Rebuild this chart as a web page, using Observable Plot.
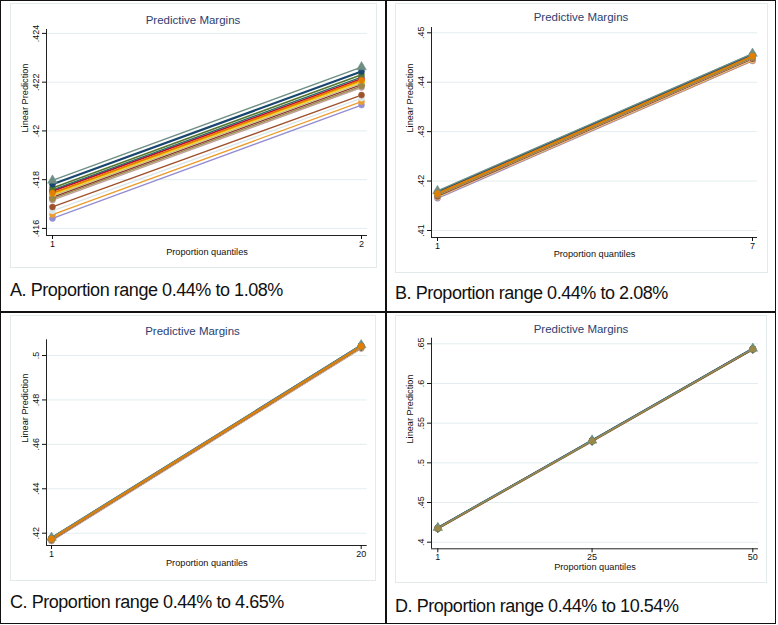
<!DOCTYPE html>
<html><head><meta charset="utf-8">
<script src="https://cdn.jsdelivr.net/npm/d3@7"></script>
<script src="https://cdn.jsdelivr.net/npm/@observablehq/plot@0.6"></script>
<style>
body{margin:0;background:#fff;font-family:"Liberation Sans",Arial,sans-serif}
#wrap{position:relative;width:778px;height:625px;overflow:hidden}
.frame{position:absolute;left:0;top:0;width:776px;height:624px;box-sizing:border-box;border:1.5px solid #111}
.vline{position:absolute;left:385px;top:0;width:1.5px;height:624px;background:#111}
.hline{position:absolute;left:0;top:311px;width:776px;height:1.5px;background:#111}
.cell{position:absolute;width:386px;height:311px}
.region{position:absolute;border:1px solid #e2eaec;box-sizing:border-box}
.plot{position:absolute;left:0;top:0}
.ptitle{position:absolute;transform:translate(-50%,-50%);color:#2c3e70;font-size:11.5px;white-space:nowrap}
.caption{position:absolute;transform:translateY(-50%);font-size:18px;letter-spacing:-0.45px;color:#111;white-space:nowrap}
</style>
</head><body>
<div id="wrap">
  <div class="frame"></div>
  <div class="vline"></div>
  <div class="hline"></div>
</div>
<script>
// ---------- data ----------
const seriesNames = ["g1","g2","g3","g4","g5","g6","g7","g8","g9","g10","g11","g12","g13","g14","g15"];

// Panel A: x = 1, 2
const xTicksA = [1, 2];
const yTicksA = [0.416, 0.418, 0.42, 0.422, 0.424];
const aAt1 = [0.41797,0.41781,0.41766,0.41758,0.41753,0.41745,0.41740,0.41734,0.41728,0.41722,0.41716,0.41688,0.41672,0.41657,0.41641];
const aAt2 = [0.42262,0.42244,0.42230,0.42221,0.42214,0.42208,0.42202,0.42196,0.42190,0.42184,0.42178,0.42147,0.42134,0.42120,0.42106];

// Panel B: x = 1, 7
const xTicksB = [1, 7];
const yTicksB = [0.41, 0.42, 0.43, 0.44, 0.45];
const bAt1 = [0.4180,0.4178,0.4177,0.4176,0.4176,0.4175,0.4174,0.4174,0.4173,0.4172,0.4172,0.4169,0.4168,0.4167,0.4165];
const bAt7 = [0.4458,0.4456,0.4455,0.4454,0.4454,0.4453,0.4452,0.4452,0.4451,0.4450,0.4450,0.4447,0.4446,0.4444,0.4443];

// Panel C: x = 1, 20
const xTicksC = [1, 20];
const yTicksC = [0.42, 0.44, 0.46, 0.48, 0.5];
const cAt1 = [0.4180,0.4178,0.4177,0.4176,0.4176,0.4175,0.4174,0.4174,0.4173,0.4172,0.4172,0.4169,0.4168,0.4167,0.4165];
const cAt20 = [0.5047,0.5045,0.5044,0.5043,0.5043,0.5042,0.5041,0.5041,0.5040,0.5039,0.5039,0.5036,0.5035,0.5033,0.5032];

// Panel D: x = 1, 25, 50
const xTicksD = [1, 25, 50];
const yTicksD = [0.4, 0.45, 0.5, 0.55, 0.6, 0.65];
const dAt1 = [0.4182,0.4180,0.4179,0.4178,0.4178,0.4177,0.4176,0.4176,0.4175,0.4174,0.4174,0.4171,0.4170,0.4169,0.4167];
const dAt25 = [0.5283,0.5281,0.5280,0.5279,0.5279,0.5278,0.5277,0.5277,0.5276,0.5275,0.5275,0.5272,0.5271,0.5269,0.5268];
const dAt50 = [0.6440,0.6438,0.6437,0.6436,0.6436,0.6435,0.6434,0.6434,0.6433,0.6432,0.6432,0.6429,0.6428,0.6426,0.6425];

const titleText = "Predictive Margins";
const yTitle = "Linear Prediction";
const xTitle = "Proportion quantiles";
const captions = ["A. Proportion range 0.44% to 1.08%","B. Proportion range 0.44% to 2.08%","C. Proportion range 0.44% to 4.65%","D. Proportion range 0.44% to 10.54%"];

// ---------- styles ----------
const colors = ["#6e8e84","#1a476f","#55752f","#2d6d66","#c10534","#e37e00","#ffd200","#cac27e","#90353b","#9c8847","#bfa19c","#a0522d","#d9e6eb","#eb9c2c","#938dd2"];
const widths = [1.4,2.2,1.6,1.4,1.8,1.8,1.4,1.4,1.4,1.4,1.4,1.3,1.3,1.3,1.3];
const symbols = ["triangle","circle","circle","diamond","circle","circle","circle","circle","circle","circle","circle","circle","circle","circle","circle"];
const orderMain = [14,13,12,11,10,8,7,6,4,3,2,1,0,9,5];
const orderD = [14,13,12,11,10,8,7,6,5,4,3,2,1,0,9];

const panels = [
  {cell:[0,0], xs:xTicksA, yt:yTicksA, vals:[aAt1,aAt2], order:orderMain, left:46, top:29, right:367, bottom:235, xdom:[0.9806,2.0194], ydom:[0.41571,0.42416], tx:193, ty:20, xtDy:19, xPad:1.5, cap:[10,290], region:[10,3,377,268]},
  {cell:[386,0], xs:xTicksB, yt:yTicksB, vals:[bAt1,bAt7], order:orderMain, left:45, top:27, right:371, bottom:237, xdom:[0.886,7.095], ydom:[0.40858,0.45107], tx:195, ty:17, xtDy:19, xPad:1.5, cap:[9,293], region:[9,3,382,273]},
  {cell:[0,312], xs:xTicksC, yt:yTicksC, vals:[cAt1,cAt20], order:orderMain, left:46, top:27.3, right:366.7, bottom:233, xdom:[0.693,20.368], ydom:[0.41446,0.50707], tx:192.5, ty:19, xtDy:20, xPad:1.5, cap:[10,290], region:[10,3,376,269]},
  {cell:[386,312], xs:xTicksD, yt:yTicksD, vals:[dAt1,dAt25,dAt50], order:orderD, left:45, top:25.7, right:372, bottom:236.3, xdom:[0.02,50.886], ydom:[0.39168,0.65706], tx:195, ty:17, xtDy:21, xPad:1, cap:[9,294], region:[9,3,381,271]}
];

const fmt = d => String(+d.toFixed(4)).replace(/^0\./, ".");
const W = 386, H = 280;
const wrap = document.getElementById("wrap");

panels.forEach((p, k) => {
  const cell = document.createElement("div");
  cell.className = "cell";
  cell.style.left = p.cell[0] + "px";
  cell.style.top = p.cell[1] + "px";

  const reg = document.createElement("div");
  reg.className = "region";
  reg.style.left = p.region[0] + "px"; reg.style.top = p.region[1] + "px";
  reg.style.width = (p.region[2] - p.region[0]) + "px"; reg.style.height = (p.region[3] - p.region[1]) + "px";
  cell.appendChild(reg);

  const marks = [
    Plot.gridY(p.yt, {stroke: "#e3edef", strokeOpacity: 1, strokeWidth: 1}),
    Plot.ruleX([p.xdom[0]], {stroke: "#222", strokeWidth: 1}),
    Plot.ruleY([p.ydom[0]], {stroke: "#222", strokeWidth: 1}),
    Plot.axisY(p.yt, {tickSize: 4, tickRotate: -90, tickPadding: 4, tickFormat: fmt, fontSize: 9, label: null}),
    Plot.axisX(p.xs, {tickSize: 4, tickPadding: p.xPad, tickFormat: d => String(d), fontSize: 9, label: null}),
    Plot.text([yTitle], {frameAnchor: "left", rotate: -90, dx: -21, fontSize: 9.2, fill: "#111"}),
    Plot.text([xTitle], {frameAnchor: "bottom", dy: p.xtDy, fontSize: 9.2, fill: "#111"})
  ];
  p.order.forEach(i => {
    const rows = p.xs.map((x, j) => ({series: seriesNames[i], x, y: p.vals[j][i]}));
    marks.push(Plot.line(rows, {x: "x", y: "y", stroke: colors[i], strokeWidth: widths[i]}));
  });
  p.order.forEach(i => {
    const rows = p.xs.map((x, j) => ({series: seriesNames[i], x, y: p.vals[j][i]}));
    marks.push(Plot.dot(rows, {x: "x", y: "y", fill: colors[i], stroke: colors[i], strokeWidth: 0.5, r: symbols[i] === "triangle" ? 3.6 : 3, symbol: symbols[i]}));
  });

  const svg = Plot.plot({
    width: W, height: H,
    marginLeft: p.left, marginTop: p.top, marginRight: W - p.right, marginBottom: H - p.bottom,
    x: {domain: p.xdom, label: null},
    y: {domain: p.ydom, label: null},
    style: {fontFamily: "'Liberation Sans', Arial, sans-serif", fontSize: "9px", color: "#111", background: "transparent", overflow: "visible"},
    marks
  });
  svg.classList.add("plot");
  svg.style.position = "absolute"; svg.style.left = "0px"; svg.style.top = "0px";
  cell.appendChild(svg);

  const t = document.createElement("div");
  t.className = "ptitle"; t.textContent = titleText;
  t.style.left = p.tx + "px"; t.style.top = p.ty + "px";
  cell.appendChild(t);

  const c = document.createElement("div");
  c.className = "caption"; c.textContent = captions[k];
  c.style.left = p.cap[0] + "px"; c.style.top = p.cap[1] + "px";
  cell.appendChild(c);

  wrap.appendChild(cell);
});
</script>
</body></html>
